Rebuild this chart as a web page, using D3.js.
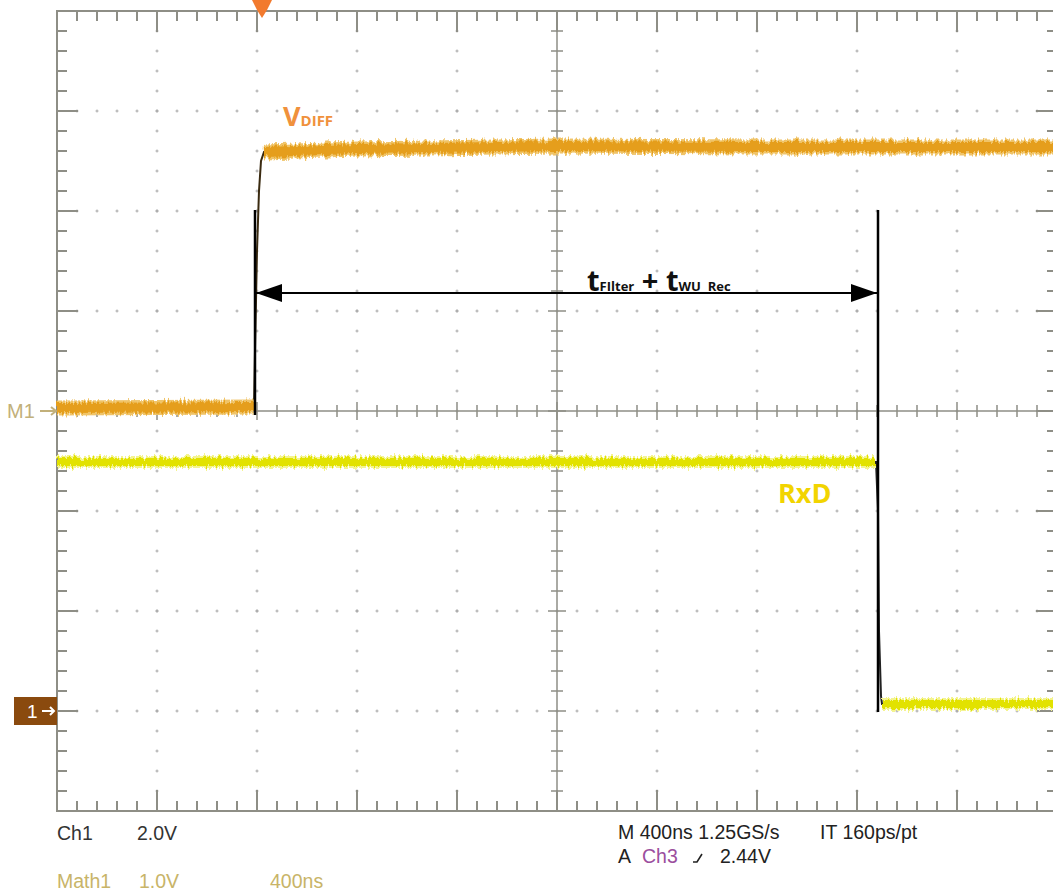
<!DOCTYPE html>
<html>
<head>
<meta charset="utf-8">
<script src="https://cdn.jsdelivr.net/npm/d3@7"></script>
<style>
  html, body { margin: 0; padding: 0; background: #fff; overflow: hidden; }
  svg { display: block; }
</style>
</head>
<body>
<div id="scope"></div>
<script>
// divisions: x from -5..5 (400ns/div), y from -4..4
var xDivs = [-5, -4, -3, -2, -1, 0, 1, 2, 3, 4, 5];
var yDivs = [-4, -3, -2, -1, 0, 1, 2, 3, 4];

// Math1 (V_DIFF), in divisions, ref level M1 = 0
var mathT = [-5.0, -3.03, -3.02, -3.00, -2.98, -2.96, -2.93, -2.0, 0.0, 2.0, 5.0];
var mathV = [0.03, 0.04, 0.6, 1.6, 2.2, 2.5, 2.59, 2.62, 2.65, 2.64, 2.64];

// Ch1 (RxD), in divisions
var rxdT = [-5.0, 3.19, 3.21, 3.22, 3.24, 3.25, 5.0];
var rxdV = [-0.51, -0.51, -1.0, -2.2, -2.85, -2.93, -2.93];

// annotation: timing span + marker lines
var spanT = [-3.02, 3.21];
var spanLevel = 1.18;
var markerTop = [2.01, 2.01];
var markerBottom = [-0.04, -3.01];
var triggerT = -2.95;

var ch1Ref = -3, m1Ref = 0;

var W = 1053, H = 891;
var svg = d3.select("#scope").append("svg")
  .attr("width", W).attr("height", H);

var x = d3.scaleLinear().domain([-5, 5]).range([57, 1057]);
var y = d3.scaleLinear().domain([-4, 4]).range([811, 11]);

var defs = svg.append("defs");
defs.append("marker").attr("id", "ahEnd")
  .attr("viewBox", "0 0 26 18").attr("refX", 26).attr("refY", 9)
  .attr("markerWidth", 26).attr("markerHeight", 18)
  .attr("markerUnits", "userSpaceOnUse").attr("orient", "auto")
  .append("path").attr("d", "M0,0L26,9L0,18Z").attr("fill", "#000");
defs.append("marker").attr("id", "ahStart")
  .attr("viewBox", "0 0 26 18").attr("refX", 26).attr("refY", 9)
  .attr("markerWidth", 26).attr("markerHeight", 18)
  .attr("markerUnits", "userSpaceOnUse").attr("orient", "auto-start-reverse")
  .append("path").attr("d", "M0,0L26,9L0,18Z").attr("fill", "#000");

var f = defs.append("filter").attr("id", "rough").attr("filterUnits", "userSpaceOnUse")
  .attr("x", 0).attr("y", 0).attr("width", W).attr("height", H);
f.append("feTurbulence").attr("type", "fractalNoise").attr("baseFrequency", "0.5 0.06")
  .attr("numOctaves", 2).attr("seed", 3).attr("result", "n");
f.append("feDisplacementMap").attr("in", "SourceGraphic").attr("in2", "n")
  .attr("scale", 9).attr("xChannelSelector", "R").attr("yChannelSelector", "G");

var grid = svg.append("g");
var gridCol = "#8e8e86", dotCol = "#a8a8a8";

// dots along the division lines
var fine = d3.range(-25, 26).map(function(d){ return d / 5; });
var fineY = d3.range(-20, 21).map(function(d){ return d / 5; });
function dot(t, v) {
  grid.append("path")
    .attr("d", "M" + (x(t) - 1.5) + "," + y(v) + "h3M" + x(t) + "," + (y(v) - 1.5) + "v3")
    .attr("stroke", dotCol).attr("stroke-width", 1);
}
xDivs.slice(1, -1).forEach(function(t){
  if (t === 0) return;
  fineY.slice(1, -1).forEach(function(v){ dot(t, v); });
});
yDivs.slice(1, -1).forEach(function(v){
  if (v === 0) return;
  fine.slice(1, -1).forEach(function(t){ dot(t, v); });
});

// centre axes with ticks
grid.append("line").attr("x1", x(-5)).attr("x2", x(5)).attr("y1", y(0)).attr("y2", y(0))
  .attr("stroke", gridCol).attr("stroke-width", 1.5);
grid.append("line").attr("x1", x(0)).attr("x2", x(0)).attr("y1", y(-4)).attr("y2", y(4))
  .attr("stroke", gridCol).attr("stroke-width", 1.5);
fine.forEach(function(t){
  var major = Math.abs(t - Math.round(t)) < 1e-6, h = major ? 9 : 6;
  grid.append("line").attr("x1", x(t)).attr("x2", x(t))
    .attr("y1", y(0) - h).attr("y2", y(0) + h)
    .attr("stroke", gridCol).attr("stroke-width", 1.5);
});
fineY.forEach(function(v){
  var major = Math.abs(v - Math.round(v)) < 1e-6, h = major ? 9 : 6;
  grid.append("line").attr("x1", x(0) - h).attr("x2", x(0) + h)
    .attr("y1", y(v)).attr("y2", y(v))
    .attr("stroke", gridCol).attr("stroke-width", 1.5);
});

// border ticks
fine.forEach(function(t){
  var major = Math.abs(t - Math.round(t)) < 1e-6, h = major ? 21 : 10;
  grid.append("line").attr("x1", x(t)).attr("x2", x(t)).attr("y1", y(4)).attr("y2", y(4) + h)
    .attr("stroke", gridCol).attr("stroke-width", 2);
  grid.append("line").attr("x1", x(t)).attr("x2", x(t)).attr("y1", y(-4)).attr("y2", y(-4) - h)
    .attr("stroke", gridCol).attr("stroke-width", 2);
});
fineY.forEach(function(v){
  var major = Math.abs(v - Math.round(v)) < 1e-6, h = major ? 21 : 10;
  grid.append("line").attr("x1", x(-5)).attr("x2", x(-5) + h).attr("y1", y(v)).attr("y2", y(v))
    .attr("stroke", gridCol).attr("stroke-width", 2);
  grid.append("line").attr("x1", x(5)).attr("x2", x(5) - h).attr("y1", y(v)).attr("y2", y(v))
    .attr("stroke", gridCol).attr("stroke-width", 2);
});
grid.append("rect").attr("x", x(-5)).attr("y", y(4))
  .attr("width", x(5) - x(-5)).attr("height", y(-4) - y(4))
  .attr("fill", "none").attr("stroke", gridCol).attr("stroke-width", 2);

// traces
var line = d3.line().x(function(d){ return x(d[0]); }).y(function(d){ return y(d[1]); });
function drawTrace(ts, vs, glow, core, edge, wGlow, wCore) {
  var pts = ts.map(function(t, i){ return [t, vs[i]]; });
  var g = svg.append("g");
  // steep parts as thin dark line
  g.append("path").attr("d", line(pts)).attr("fill", "none")
    .attr("stroke", edge).attr("stroke-width", 2);
  // flat parts as thick noisy band
  var runs = [], cur = [pts[0]];
  for (var i = 1; i < pts.length; i++) {
    var slope = Math.abs((pts[i][1] - pts[i-1][1]) / (pts[i][0] - pts[i-1][0]));
    if (slope < 1) { cur.push(pts[i]); }
    else { if (cur.length > 1) runs.push(cur); cur = [pts[i]]; }
  }
  if (cur.length > 1) runs.push(cur);
  runs.forEach(function(r){
    g.append("path").attr("d", line(r)).attr("fill", "none")
      .attr("stroke", glow).attr("stroke-width", wGlow).attr("filter", "url(#rough)");
    g.append("path").attr("d", line(r)).attr("fill", "none")
      .attr("stroke", core).attr("stroke-width", wCore).attr("filter", "url(#rough)");
  });
}

drawTrace(mathT, mathV, "#f0c468", "#e59e1a", "#3a2a10", 15, 10);
drawTrace(rxdT, rxdV, "#f4f490", "#e2e206", "#222", 12, 8);

// annotation
var ann = svg.append("g");
ann.append("line").attr("x1", x(spanT[0])).attr("x2", x(spanT[0]))
  .attr("y1", y(markerTop[0])).attr("y2", y(markerBottom[0]))
  .attr("stroke", "#000").attr("stroke-width", 2.5);
ann.append("line").attr("x1", x(spanT[1])).attr("x2", x(spanT[1]))
  .attr("y1", y(markerTop[1])).attr("y2", y(markerBottom[1]))
  .attr("stroke", "#000").attr("stroke-width", 2.5);
ann.append("line").attr("x1", x(spanT[0]) + 1).attr("x2", x(spanT[1]) - 1)
  .attr("y1", y(spanLevel)).attr("y2", y(spanLevel))
  .attr("stroke", "#000").attr("stroke-width", 2)
  .attr("marker-start", "url(#ahStart)").attr("marker-end", "url(#ahEnd)");

var lbl = ann.append("text").attr("x", x(0.3)).attr("y", y(spanLevel) - 2)
  .attr("font-family", "Open Sans, sans-serif").attr("font-weight", 700).attr("fill", "#111")
  .style("white-space", "pre");
lbl.append("tspan").attr("font-size", 29).text("t");
lbl.append("tspan").attr("font-size", 13).text("FIlter");
lbl.append("tspan").attr("font-size", 29).text(" + t");
lbl.append("tspan").attr("font-size", 13).text("WU  Rec");

var vd = ann.append("text").attr("x", x(-2.74)).attr("y", y(2.85))
  .attr("font-family", "Open Sans, sans-serif").attr("font-weight", 700).attr("fill", "#f0913c");
vd.append("tspan").attr("font-size", 27).text("V");
vd.append("tspan").attr("font-size", 15).text("DIFF");

ann.append("text").attr("x", x(2.21)).attr("y", y(-0.92))
  .attr("font-family", "Open Sans, sans-serif").attr("font-weight", 700)
  .attr("font-size", 27).attr("fill", "#f2d400").text("RxD");

// trigger marker
svg.append("path")
  .attr("d", "M" + (x(triggerT) - 10) + ",0L" + (x(triggerT) + 10) + ",0L" + (x(triggerT) + 5) + ",10L" + x(triggerT) + ",18L" + (x(triggerT) - 5) + ",10Z")
  .attr("fill", "#f27a2e");

// reference markers
svg.append("text").attr("x", 7).attr("y", y(m1Ref) + 7)
  .attr("font-family", "Liberation Sans, Arial, sans-serif").attr("font-size", 20)
  .attr("fill", "#c2b07a").text("M1");
svg.append("path").attr("d", "M40," + y(m1Ref) + "H56M51," + (y(m1Ref) - 4) + "L56," + y(m1Ref) + "L51," + (y(m1Ref) + 4))
  .attr("stroke", "#c2b07a").attr("stroke-width", 2).attr("fill", "none");

svg.append("rect").attr("x", 14).attr("y", y(ch1Ref) - 14).attr("width", 43).attr("height", 28)
  .attr("fill", "#8a4a0e");
svg.append("text").attr("x", 27).attr("y", y(ch1Ref) + 7)
  .attr("font-family", "Liberation Sans, Arial, sans-serif").attr("font-size", 19)
  .attr("fill", "#fff").text("1");
svg.append("path").attr("d", "M42," + y(ch1Ref) + "H54M50," + (y(ch1Ref) - 4) + "L54," + y(ch1Ref) + "L50," + (y(ch1Ref) + 4))
  .attr("stroke", "#fff").attr("stroke-width", 2).attr("fill", "none");

// readout
var ro = svg.append("g").attr("font-family", "Liberation Sans, Arial, sans-serif").attr("font-size", 19.5);
ro.append("text").attr("x", 57).attr("y", 840).attr("fill", "#333").text("Ch1");
ro.append("text").attr("x", 137).attr("y", 840).attr("fill", "#333").text("2.0V");
ro.append("text").attr("x", 57).attr("y", 888).attr("fill", "#c8b468").text("Math1");
ro.append("text").attr("x", 139).attr("y", 888).attr("fill", "#c8b468").text("1.0V");
ro.append("text").attr("x", 270).attr("y", 888).attr("fill", "#c8b468").text("400ns");
ro.append("text").attr("x", 618).attr("y", 839).attr("fill", "#222").text("M 400ns 1.25GS/s");
ro.append("text").attr("x", 820).attr("y", 839).attr("fill", "#222").text("IT 160ps/pt");
ro.append("text").attr("x", 618).attr("y", 863).attr("fill", "#222").text("A");
ro.append("text").attr("x", 642).attr("y", 863).attr("fill", "#9b4e9e").text("Ch3");
ro.append("path").attr("d", "M693,862h4l5,-8").attr("stroke", "#222").attr("stroke-width", 1.6).attr("fill", "none");
ro.append("text").attr("x", 720).attr("y", 863).attr("fill", "#222").text("2.44V");
</script>
</body>
</html>
